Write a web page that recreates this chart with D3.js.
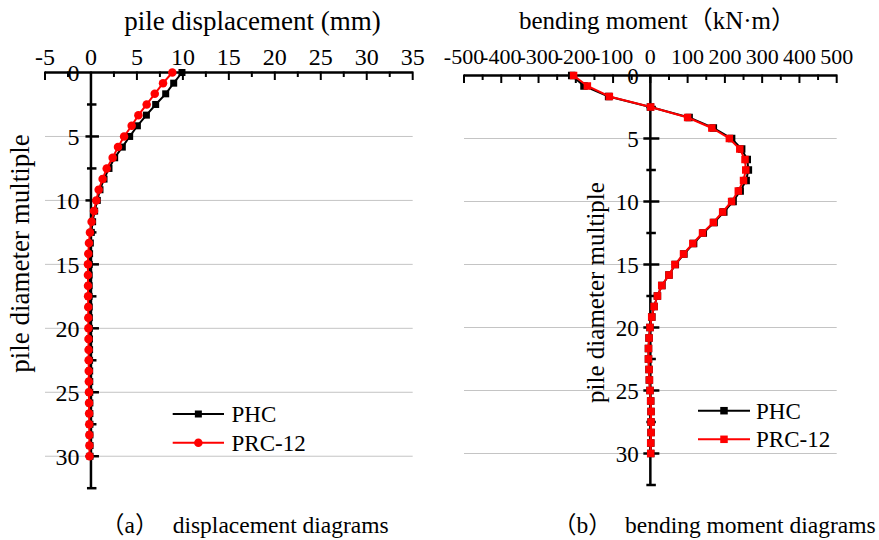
<!DOCTYPE html>
<html><head><meta charset="utf-8">
<script src="https://cdn.jsdelivr.net/npm/d3@7"></script>
<style>
html,body{margin:0;padding:0;background:#fff;}
svg{display:block;}
text{font-family:"Liberation Serif","Times New Roman","Noto Sans CJK SC",serif;fill:#000;}
</style></head>
<body>
<svg id="chart" width="879" height="540"></svg>
<script>
// ---- data ----
const depth = [0,0.833,1.667,2.5,3.333,4.167,5,5.833,6.667,7.5,8.333,9.167,10,10.833,11.667,12.5,13.333,14.167,15,
  15.833,16.667,17.5,18.333,19.167,20,20.833,21.667,22.5,23.333,24.167,25,25.833,26.667,27.5,28.333,29.167,30];
const dispPHC = [9.9,9.0,8.13,7.04,6.03,5.05,4.21,3.41,2.58,1.96,1.42,0.98,0.69,0.40,0.18,0.04,-0.07,-0.15,-0.18,
  -0.2,-0.2,-0.2,-0.19,-0.18,-0.17,-0.16,-0.15,-0.15,-0.14,-0.13,-0.13,-0.12,-0.12,-0.11,-0.11,-0.1,-0.1];
const dispPRC = [8.85,7.84,6.94,6.06,5.16,4.43,3.6,2.94,2.36,1.71,1.27,0.84,0.58,0.33,0.07,-0.11,-0.22,-0.29,-0.33,
  -0.33,-0.32,-0.31,-0.3,-0.29,-0.28,-0.27,-0.26,-0.25,-0.24,-0.23,-0.22,-0.21,-0.2,-0.19,-0.18,-0.17,-0.16];
const momentPHC = [-211,-178,-112,0,104,169,218,245,260,263,257,241,222,197,171,142,116,90,67,
  50,31,19,10,4,-1,-3.5,-5,-5,-3.5,-2.6,-1,0.9,1.8,1.8,1.8,1,1];
const momentPRC = [-206,-169,-110,1,100,165,212,240,254,256,250,236,218,194,169,140,114,89,66,
  50,30.5,19,10,3.6,-1,-3.5,-5,-5,-3.5,-2.6,-1,0.9,1.8,1.8,1.8,1,1];
const seriesNames = ["PHC","PRC-12"];
const dispTicks = [-5,0,5,10,15,20,25,30,35];
const momentTicks = [-500,-400,-300,-200,-100,0,100,200,300,400,500];
const depthTicks = [0,5,10,15,20,25,30];
const titles = {
  dispX: "pile displacement (mm)",
  momX: "bending moment（kN·m）",
  y: "pile diameter multiple",
  capA1: "（a）", capA2: "displacement diagrams",
  capB1: "（b）", capB2: "bending moment diagrams"
};

const svg = d3.select("#chart");

function panel(cfg){
  const g = svg.append("g");
  const x = d3.scaleLinear().domain(cfg.xDomain).range(cfg.xRange);
  const y = d3.scaleLinear().domain([0,32.5]).range(cfg.yRange);
  const x0 = x(0);
  // gridlines
  g.append("g").selectAll("line").data(depthTicks.filter(d=>d>0)).join("line")
    .attr("x1",cfg.xRange[0]).attr("x2",cfg.xRange[1])
    .attr("y1",d=>y(d)).attr("y2",d=>y(d))
    .attr("stroke","#c4c4c4").attr("stroke-width",1);
  // x tick labels
  g.append("g").selectAll("text").data(cfg.xTicks).join("text")
    .attr("x",d=>x(d)).attr("y",cfg.xLabelY).attr("text-anchor","middle")
    .style("font-size",cfg.tickFont+"px").text(d=>d);
  // y tick labels
  g.append("g").selectAll("text").data(depthTicks).join("text")
    .attr("x",x0-cfg.yLabelGap).attr("y",d=>y(d)).attr("dy","0.35em").attr("text-anchor","end")
    .style("font-size",cfg.yTickFont+"px").text(d=>d);
  // x axis (top)
  const ax = g.append("g").attr("stroke","#000");
  ax.append("line").attr("x1",cfg.xRange[0]).attr("x2",cfg.xRange[1]).attr("y1",y(0)).attr("y2",y(0)).attr("stroke-width",2.5);
  const xMinor = d3.range(cfg.xDomain[0], cfg.xDomain[1]+1e-9, cfg.xMinorStep);
  ax.selectAll(".xt").data(xMinor).join("line").attr("class","xt")
    .attr("x1",d=>x(d)).attr("x2",d=>x(d)).attr("y1",y(0)-1)
    .attr("y2",d=>y(0)+(Math.abs(d/cfg.xMajorStep-Math.round(d/cfg.xMajorStep))<1e-6?7.5:4.5))
    .attr("stroke-width",2);
  // y axis at x=0
  ax.append("line").attr("x1",x0).attr("x2",x0).attr("y1",y(0)).attr("y2",y(32.5)).attr("stroke-width",2.5);
  const yMinor = d3.range(2.5, 32.5+1e-9, 2.5);
  ax.selectAll(".yt").data(yMinor).join("line").attr("class","yt")
    .attr("y1",d=>y(d)).attr("y2",d=>y(d))
    .attr("x1",d=>x0-(d%5===0?cfg.majL:4)).attr("x2",d=>x0+(d%5===0?cfg.majR:5.5))
    .attr("stroke-width",2.5);
  // series
  const line = d3.line().x(d=>x(d[0])).y(d=>y(d[1]));
  cfg.series.forEach(s=>{
    const pts = s.values.map((v,i)=>[v,depth[i]]);
    g.append("path").attr("d",line(pts)).attr("fill","none").attr("stroke",s.color).attr("stroke-width",2);
    const m = g.append("g").attr("fill",s.color);
    if(s.marker==="circle"){
      m.selectAll("circle").data(pts).join("circle").attr("cx",d=>x(d[0])).attr("cy",d=>y(d[1])).attr("r",s.size/2);
    } else {
      m.selectAll("rect").data(pts).join("rect").attr("x",d=>x(d[0])-s.size/2).attr("y",d=>y(d[1])-s.size/2)
        .attr("width",s.size).attr("height",s.size);
    }
  });
  // legend
  const lg = g.append("g");
  cfg.series.forEach((s,i)=>{
    const ly = cfg.legend.y + i*cfg.legend.dy;
    lg.append("line").attr("x1",cfg.legend.x1).attr("x2",cfg.legend.x2).attr("y1",ly).attr("y2",ly)
      .attr("stroke",s.color).attr("stroke-width",2);
    const cx = (cfg.legend.x1+cfg.legend.x2)/2;
    if(s.marker==="circle") lg.append("circle").attr("cx",cx).attr("cy",ly).attr("r",s.size/2).attr("fill",s.color);
    else lg.append("rect").attr("x",cx-s.size/2).attr("y",ly-s.size/2).attr("width",s.size).attr("height",s.size).attr("fill",s.color);
    lg.append("text").attr("x",cfg.legend.tx).attr("y",ly).attr("dy","0.35em").style("font-size","23px").text(seriesNames[i]);
  });
  return {x,y};
}

panel({
  xDomain:[-5,35], xRange:[45,412.7], yRange:[72.5,488.2],
  xTicks:dispTicks, xMinorStep:2.5, xMajorStep:5, xLabelY:65, tickFont:24, yTickFont:24, yLabelGap:11.5,
  majL:5.5, majR:8,
  series:[
    {values:dispPHC,color:"#000",marker:"square",size:7},
    {values:dispPRC,color:"#ff0000",marker:"circle",size:8.5}
  ],
  legend:{x1:172.7,x2:224,y:414,dy:28.7,tx:231.5}
});
panel({
  xDomain:[-500,500], xRange:[464,836.7], yRange:[75.5,485],
  xTicks:momentTicks, xMinorStep:50, xMajorStep:100, xLabelY:63.5, tickFont:22, yTickFont:23, yLabelGap:11.5,
  majL:7, majR:9,
  series:[
    {values:momentPHC,color:"#000",marker:"square",size:7.5},
    {values:momentPRC,color:"#ff0000",marker:"square",size:7.5}
  ],
  legend:{x1:698,x2:750,y:410.7,dy:28.6,tx:756}
});

// titles
svg.append("text").attr("x",252.5).attr("y",30).attr("text-anchor","middle").style("font-size","27px").text(titles.dispX);
svg.append("text").attr("x",519).attr("y",28.5).attr("text-anchor","start").style("font-size","25px").text(titles.momX);
svg.append("text").attr("transform","translate(29,253.5) rotate(-90)").attr("text-anchor","middle").style("font-size","27px").text(titles.y);
svg.append("text").attr("transform","translate(604,292.5) rotate(-90)").attr("text-anchor","middle").style("font-size","25px").text(titles.y);
// captions
svg.append("text").attr("x",101).attr("y",533).style("font-size","23.5px").text(titles.capA1);
svg.append("text").attr("x",172.7).attr("y",533).style("font-size","23.5px").text(titles.capA2);
svg.append("text").attr("x",553).attr("y",533).style("font-size","23.5px").text(titles.capB1);
svg.append("text").attr("x",625).attr("y",533).style("font-size","23.5px").text(titles.capB2);
</script>
</body></html>
